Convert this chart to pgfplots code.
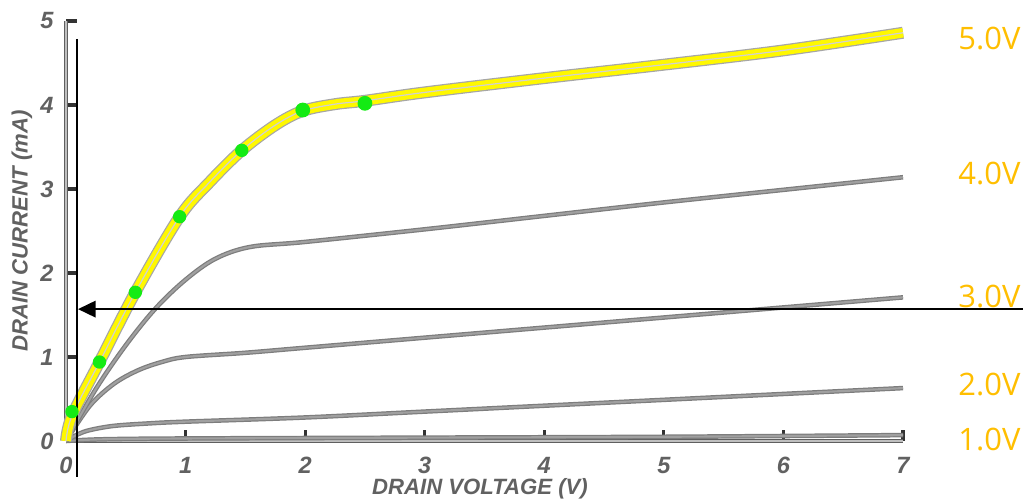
\documentclass[border=0pt]{standalone}
\usepackage{fontspec}
\setmainfont{Liberation Sans}
\newfontfamily\labelfont{Open Sans}
\usepackage{pgfplots}
\usepackage{pgfplotstable}
\pgfplotsset{compat=1.18}
\usetikzlibrary{arrows.meta}

\definecolor{curvegray}{RGB}{160,160,160}
\definecolor{edgegray}{RGB}{125,125,125}
\definecolor{hiyellow}{RGB}{255,248,0}
\definecolor{dotgreen}{RGB}{20,235,20}
\definecolor{vlabel}{RGB}{255,190,0}
\definecolor{axisgray}{RGB}{95,95,95}

% drain current (mA) vs drain voltage (V), one table per gate voltage
\pgfplotstableread{
x y
0 0
0.05 0.30
0.28 0.94
0.58 1.77
0.95 2.67
1.20 3.08
1.47 3.46
1.75 3.76
1.98 3.93
2.25 4.01
2.50 4.05
3 4.15
4 4.32
5 4.48
6 4.65
7 4.86
}\vgsfive
\pgfplotstableread{
x y
0 0
0.25 0.62
0.50 1.14
0.75 1.58
1.00 1.92
1.25 2.17
1.54 2.31
2 2.37
3 2.52
4 2.68
5 2.84
6 2.99
7 3.14
}\vgsfour
\pgfplotstableread{
x y
0 0
0.20 0.42
0.40 0.68
0.60 0.84
0.80 0.94
1.00 1.00
1.50 1.05
2 1.11
3 1.23
4 1.35
5 1.47
6 1.59
7 1.71
}\vgsthree
\pgfplotstableread{
x y
0 0
0.10 0.08
0.20 0.13
0.40 0.18
0.70 0.21
1 0.23
2 0.28
3 0.35
4 0.42
5 0.49
6 0.56
7 0.63
}\vgstwo
\pgfplotstableread{
x y
0 0
0.3 0.02
1 0.03
3 0.04
5 0.05
7 0.07
}\vgsone

\begin{document}
\begin{tikzpicture}
\path[use as bounding box] (-0.66,-0.62) rectangle (9.57,4.41);
\begin{axis}[
    scale only axis,
    width=8.37cm,
    height=4.2cm,
    xmin=0, xmax=7,
    ymin=0, ymax=5,
    axis x line=bottom,
    axis y line=left,
    axis line style={-, draw=axisgray, double=black!25, double distance=0.55pt, line width=0.35pt},
    xtick={0,1,...,7},
    ytick={0,1,...,5},
    xtick align=inside,
    ytick align=inside,
    major tick length=1.1mm,
    every tick/.style={draw=black!80, line width=0.9pt},
    clip=false,
    /pgf/number format/assume math mode=true,
    ticklabel style={font=\fontsize{6.7}{8}\selectfont\bfseries\itshape, text=black!62},
    xticklabel style={yshift=-1pt},
    xlabel={DRAIN VOLTAGE (V)},
    ylabel={DRAIN CURRENT (mA)},
    label style={font=\fontsize{6.3}{7.5}\selectfont\bfseries\itshape, text=black!62},
    xlabel style={at={(axis description cs:0.4946,-0.114)}, anchor=center},
    ylabel style={at={(axis description cs:-0.0526,0.5)}, anchor=center, rotate=0},
]
% gray characteristic curves
\addplot[smooth, tension=0.55, draw=edgegray, double=curvegray, double distance=0.6pt, line width=0.35pt] table {\vgsone};
\addplot[smooth, tension=0.55, draw=edgegray, double=curvegray, double distance=0.6pt, line width=0.35pt] table {\vgstwo};
\addplot[smooth, tension=0.55, draw=edgegray, double=curvegray, double distance=0.6pt, line width=0.35pt] table {\vgsthree};
\addplot[smooth, tension=0.55, draw=edgegray, double=curvegray, double distance=0.6pt, line width=0.35pt] table {\vgsfour};
% measured points partly under the highlight
\addplot[only marks, mark=*, mark size=1.7pt, mark options={draw=dotgreen, fill=dotgreen}] coordinates {
    (0.05,0.35) (0.28,0.94) (0.58,1.77) (0.95,2.67) (1.47,3.46)
};
% highlighted 5.0 V curve
\addplot[smooth, tension=0.55, draw=black!35, line width=3.4pt] table {\vgsfive};
\addplot[smooth, tension=0.55, draw=hiyellow, line width=2.7pt] table {\vgsfive};
\addplot[smooth, tension=0.55, draw=black!18, line width=0.35pt] table {\vgsfive};
\addplot[only marks, mark=*, mark size=1.9pt, mark options={draw=dotgreen, fill=dotgreen}] coordinates {
    (1.98,3.94) (2.50,4.02)
};
% annotations
\draw[black, line width=0.45pt] (axis cs:0.092,4.786) -- (axis cs:0.092,-0.43);
\draw[black, line width=0.75pt, -{Triangle[length=5pt, width=4.6pt]}] (axis cs:8.2,1.57) -- (axis cs:0.10,1.57);
\begin{scope}[every node/.style={anchor=west, inner sep=0pt, text=vlabel, font=\labelfont\fontsize{8.8}{10}\selectfont}]
\node at (axis cs:7.458,4.786) {5.0V};
\node at (axis cs:7.458,3.18) {4.0V};
\node at (axis cs:7.458,1.726) {3.0V};
\node at (axis cs:7.458,0.667) {2.0V};
\node at (axis cs:7.458,0.012) {1.0V};
\end{scope}
\end{axis}
\end{tikzpicture}
\end{document}
